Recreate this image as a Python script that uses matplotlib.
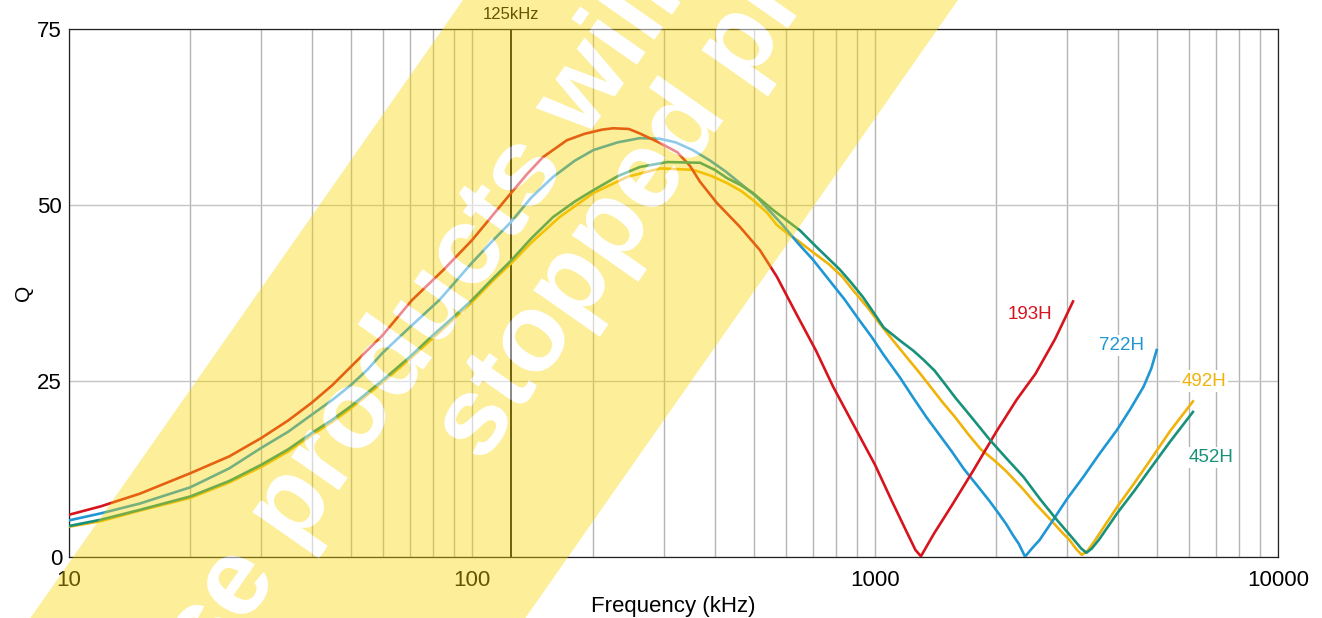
import numpy as np
import matplotlib
matplotlib.use("Agg")
import matplotlib.pyplot as plt
from matplotlib.textpath import TextPath
from matplotlib.font_manager import FontProperties
from matplotlib.path import Path
from matplotlib.patches import PathPatch
from matplotlib.transforms import Affine2D

plt.rcParams['font.family'] = ['Liberation Sans', 'DejaVu Sans']

# Q vs frequency (kHz)
f_193 = [10, 12, 15, 20, 25, 30, 35, 40, 45, 50, 60, 71, 85, 100, 112, 125, 137, 150, 172,
         190, 210, 224, 245, 260, 293, 323, 347, 368, 405, 462, 518, 571, 633, 714, 787,
         888, 1000, 1100, 1186, 1260, 1300, 1400, 1550, 1750, 2000, 2250, 2500, 2800, 3100]
q_193 = [6.0, 7.2, 9.0, 11.9, 14.3, 16.9, 19.4, 21.9, 24.4, 27.0, 31.5, 36.5, 40.8, 45.0,
         48.4, 51.7, 54.4, 56.8, 59.2, 60.1, 60.7, 60.9, 60.8, 60.2, 58.8, 57.5, 55.6, 53.3,
         50.3, 46.9, 43.6, 39.8, 34.9, 29.3, 24.2, 18.6, 13.1, 8.0, 4.1, 1.0, 0.1, 3.3, 7.3,
         12.2, 17.8, 22.4, 26.0, 31.0, 36.3]

f_722 = [10, 12, 15, 20, 25, 30, 35, 40, 45, 50, 55, 60, 70, 83, 100, 112, 125, 140, 159,
         180, 200, 230, 261, 293, 320, 353, 390, 425, 465, 510, 589, 648, 700, 768, 840,
         910, 980, 1051, 1150, 1245, 1340, 1439, 1550, 1662, 1790, 1921, 2020, 2115, 2200,
         2275, 2357, 2450, 2560, 2770, 3000, 3290, 3600, 3980, 4300, 4640, 4850, 5000]
q_722 = [5.2, 6.2, 7.6, 9.9, 12.6, 15.5, 17.8, 20.2, 22.3, 24.4, 26.6, 29.0, 32.6, 36.5,
         41.8, 44.8, 47.6, 51.0, 54.0, 56.3, 57.8, 58.9, 59.5, 59.4, 58.9, 57.8, 56.3, 54.8,
         53.0, 51.1, 47.2, 44.4, 42.3, 39.4, 36.6, 33.8, 31.3, 28.7, 25.6, 22.6, 19.9, 17.5,
         15.0, 12.5, 10.2, 8.0, 6.3, 4.7, 3.1, 1.85, 0.05, 1.2, 2.4, 5.3, 8.3, 11.4, 14.6,
         18.0, 21.0, 24.2, 26.8, 29.4]

f_492 = [10, 12, 15, 20, 25, 30, 35, 40, 45, 50, 60, 70, 80, 90, 100, 112, 125, 140, 165,
         200, 243, 293, 353, 390, 430, 465, 498, 540, 570, 605, 645, 690, 768, 830, 888,
         960, 1026, 1100, 1186, 1280, 1372, 1470, 1584, 1700, 1830, 1970, 2115, 2334, 2500,
         2716, 2900, 3040, 3160, 3260, 3370, 3500, 3750, 4000, 4400, 4800, 5400, 6150]
q_492 = [4.3, 5.1, 6.6, 8.4, 10.6, 12.8, 15.0, 17.3, 19.2, 21.1, 24.8, 28.1, 31.1, 33.8,
         36.2, 39.1, 41.7, 44.6, 48.3, 51.7, 54.0, 55.2, 55.0, 54.2, 53.1, 52.0, 50.7, 48.9,
         47.2, 46.0, 44.9, 43.6, 41.6, 39.8, 37.7, 35.4, 33.2, 31.0, 28.7, 26.4, 24.2, 22.0,
         19.8, 17.5, 15.3, 13.8, 12.2, 9.6, 7.6, 5.4, 3.6, 2.4, 1.1, 0.3, 0.9, 2.2, 4.8, 7.2,
         10.5, 13.6, 17.9, 22.1]

f_452 = [10, 12, 15, 20, 25, 30, 35, 40, 45, 50, 60, 70, 80, 90, 100, 112, 125, 140, 159,
         180, 200, 230, 261, 305, 368, 400, 430, 465, 498, 558, 651, 717, 819, 875, 934,
         990, 1051, 1150, 1245, 1320, 1404, 1490, 1584, 1750, 1930, 2120, 2334, 2570, 2824,
         3100, 3250, 3346, 3450, 3600, 4000, 4400, 4800, 5400, 6150]
q_452 = [4.4, 5.3, 6.7, 8.6, 10.8, 13.1, 15.3, 17.6, 19.5, 21.4, 25.1, 28.4, 31.5, 34.1,
         36.5, 39.4, 42.1, 45.2, 48.3, 50.5, 52.1, 54.1, 55.4, 56.1, 56.0, 55.0, 53.8, 52.8,
         51.7, 49.3, 46.4, 44.0, 40.8, 38.9, 36.9, 34.8, 32.6, 30.8, 29.3, 28.0, 26.5, 24.6,
         22.6, 19.6, 16.6, 14.0, 11.4, 8.2, 5.3, 2.6, 1.2, 0.6, 1.2, 2.5, 6.3, 9.4, 12.4,
         16.4, 20.6]

labels = ['193H', '722H', '492H', '452H']
colors = ['#d7141e', '#1f97d4', '#efb30a', '#18917a']
label_pos = [(2430, 34.4), (4100, 30.0), (6550, 25.0), (6820, 14.1)]
marker_freq = 125

fig = plt.figure(figsize=(13.22, 6.18), dpi=100)
ax = fig.add_axes([69 / 1322, 61 / 618, 1209 / 1322, 528 / 618])

series = {
    '492H': (f_492, q_492),
    '722H': (f_722, q_722),
    '193H': (f_193, q_193),
    '452H': (f_452, q_452),
}
for name in ['492H', '722H', '193H', '452H']:
    f, q = series[name]
    ax.plot(f, q, color=colors[labels.index(name)], lw=1.9, zorder=3,
            solid_joinstyle='round')

for name, (lx, ly), c in zip(labels, label_pos, colors):
    ax.text(lx, ly, name, color=c, fontsize=13.5, ha='center', va='center', zorder=4,
            bbox=dict(facecolor='white', edgecolor='none', pad=1.5))

ax.axvline(marker_freq, color='black', lw=1.3, zorder=2)
ax.annotate('125kHz', xy=(marker_freq, 75), xytext=(0, 5), textcoords='offset points',
            ha='center', va='bottom', fontsize=12, color='black', annotation_clip=False)

ax.set_xscale('log')
ax.set_xlim(10, 10000)
ax.set_ylim(0, 75)
ax.set_yticks([0, 25, 50, 75])
ax.set_xticks([10, 100, 1000, 10000])
ax.set_xticklabels(['10', '100', '1000', '10000'])
ax.tick_params(axis='both', which='both', length=0, labelsize=16)
ax.tick_params(axis='x', pad=9)
ax.tick_params(axis='y', pad=5)
ax.grid(True, which='both', axis='x', color='#b4b4b4', lw=1.0)
ax.grid(True, which='major', axis='y', color='#c4c4c4', lw=1.0)
ax.set_axisbelow(True)
for sp in ax.spines.values():
    sp.set_color('#222222')
    sp.set_linewidth(0.9)
ax.set_xlabel('Frequency (kHz)', fontsize=16, labelpad=4)
ax.set_ylabel('Q', fontsize=15, labelpad=3)

# watermark: yellow band with knocked-out text, in figure pixel coordinates
ov = fig.add_axes([0, 0, 1, 1], zorder=10)
ov.set_xlim(0, 1322)
ov.set_ylim(0, 618)
ov.axis('off')
ov.patch.set_alpha(0)

wm_angle = 55
wm_size = 110
wm_lines = ['These products will be', 'stopped production']
wm_starts = [(96, -219), (482, 153)]
fp = FontProperties(family='Liberation Sans', weight='bold')

text_paths = []
for s, (x0, y0) in zip(wm_lines, wm_starts):
    tp = TextPath((0, 0), s, size=wm_size, prop=fp)
    text_paths.append(Affine2D().rotate_deg(wm_angle).translate(x0, y0).transform_path(tp))


def signed_area(v):
    x, y = v[:, 0], v[:, 1]
    return 0.5 * np.sum(x * np.roll(y, -1) - np.roll(x, -1) * y)


polys = text_paths[0].to_polygons()
big = max(polys, key=lambda p: abs(signed_area(p)))
band = np.array([[498, 668], [993, 668], [482, -62], [-13, -62]], dtype=float)
if np.sign(signed_area(band)) == np.sign(signed_area(big)):
    band = band[::-1]
band_path = Path(np.vstack([band, band[:1]]),
                 [Path.MOVETO, Path.LINETO, Path.LINETO, Path.LINETO, Path.CLOSEPOLY])
ov.add_patch(PathPatch(Path.make_compound_path(band_path, *text_paths),
                       facecolor='#fbd700', edgecolor='none', alpha=0.4))
ov.add_patch(PathPatch(Path.make_compound_path(*text_paths),
                       facecolor='white', edgecolor='none', alpha=0.5))

fig.savefig('out.png', dpi=100)
